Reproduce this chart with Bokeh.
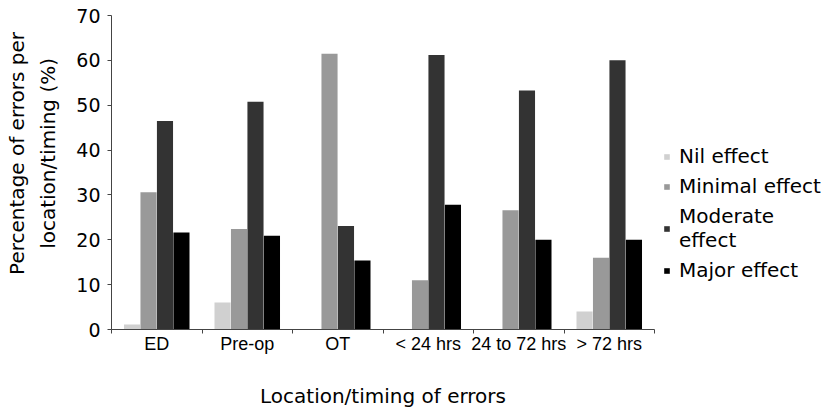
from bokeh.plotting import figure
from bokeh.models import ColumnDataSource, Range1d, FixedTicker, Legend, LegendItem
from bokeh.transform import dodge
from bokeh.embed import file_html
from bokeh.resources import INLINE

categories = ["ED", "Pre-op", "OT", "< 24 hrs", "24 to 72 hrs", "> 72 hrs"]
nil_effect = [1.1, 6.0, 0.0, 0.0, 0.0, 4.0]
minimal_effect = [30.6, 22.4, 61.5, 11.0, 26.6, 16.0]
moderate_effect = [46.5, 50.8, 23.1, 61.2, 53.3, 60.0]
major_effect = [21.6, 20.9, 15.4, 27.8, 20.0, 20.0]
y_ticks = [0, 10, 20, 30, 40, 50, 60, 70]

series = [
    ("nil", "Nil effect", "#d0d0d0", -0.273),
    ("minimal", "Minimal effect", "#999999", -0.091),
    ("moderate", "Moderate\neffect", "#333333", 0.091),
    ("major", "Major effect", "#000000", 0.273),
]

src = ColumnDataSource(dict(
    x=[i + 0.5 for i in range(len(categories))],
    nil=nil_effect, minimal=minimal_effect,
    moderate=moderate_effect, major=major_effect,
))

p = figure(frame_width=543, frame_height=314, output_backend="svg",
           toolbar_location=None, x_range=Range1d(0, 6), y_range=Range1d(0, 70),
           min_border_left=111, min_border_top=15, min_border_right=176,
           min_border_bottom=10)
p.outline_line_color = None
p.grid.visible = False
p.background_fill_color = "white"
p.border_fill_color = "white"

items = []
for key, label, color, off in series:
    r = p.vbar(x=dodge("x", off), top=key, width=0.178, source=src,
               fill_color=color, line_color=None)
    items.append(LegendItem(label=label, renderers=[r]))

NB = "\u00a0" * 6

# Y axis
ya = p.yaxis[0]
ya.ticker = FixedTicker(ticks=y_ticks)
ya.minor_tick_line_color = None
ya.major_tick_in = 0
ya.major_tick_out = 4
ya.major_label_standoff = 7
ya.major_label_text_font = "DejaVu Sans"
ya.major_label_text_font_size = "19px"
ya.major_label_text_color = "#000000"
ya.axis_line_color = "#444444"
ya.major_tick_line_color = "#444444"
ya.axis_label = NB + "Percentage of errors per\n" + NB + "location/timing (%)"
ya.axis_label_text_font = "DejaVu Sans"
ya.axis_label_text_font_size = "20px"
ya.axis_label_text_font_style = "normal"
ya.axis_label_text_line_height = 1.3
ya.axis_label_text_color = "#000000"
ya.axis_label_standoff = 13

# X axis
xa = p.xaxis[0]
xa.ticker = FixedTicker(ticks=[i + 0.5 for i in range(len(categories))],
                        minor_ticks=list(range(len(categories) + 1)))
xa.major_label_overrides = {i + 0.5: c for i, c in enumerate(categories)}
xa.major_tick_in = 0
xa.major_tick_out = 0
xa.minor_tick_in = 0
xa.minor_tick_out = 4
xa.minor_tick_line_color = "#444444"
xa.axis_line_color = "#444444"
xa.major_label_standoff = 0
xa.major_label_text_font = "Liberation Sans"
xa.major_label_text_font_size = "18px"
xa.major_label_text_color = "#000000"
xa.axis_label = "Location/timing of errors"
xa.axis_label_text_font = "DejaVu Sans"
xa.axis_label_text_font_size = "20px"
xa.axis_label_text_font_style = "normal"
xa.axis_label_text_color = "#000000"
xa.axis_label_standoff = 27

legend = Legend(items=items, location=(9, 47), orientation="vertical",
                glyph_width=7, glyph_height=7, label_standoff=9,
                spacing=6, padding=0, margin=0,
                label_text_font="DejaVu Sans", label_text_font_size="20px",
                label_text_color="#000000",
                border_line_color=None, background_fill_alpha=0)
p.add_layout(legend, "right")

open("out.html", "w").write(file_html(p, INLINE))
